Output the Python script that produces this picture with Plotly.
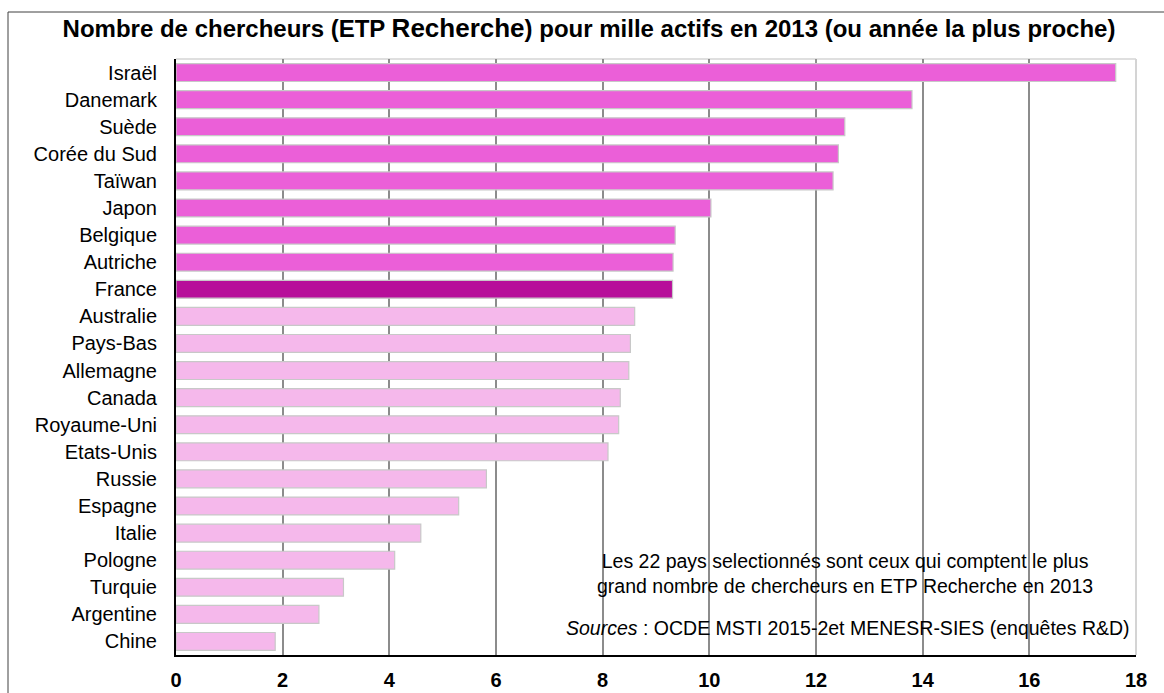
import plotly.graph_objects as go

countries = ["Israël", "Danemark", "Suède", "Corée du Sud", "Taïwan", "Japon", "Belgique",
             "Autriche", "France", "Australie", "Pays-Bas", "Allemagne", "Canada",
             "Royaume-Uni", "Etats-Unis", "Russie", "Espagne", "Italie", "Pologne",
             "Turquie", "Argentine", "Chine"]
values = [17.62, 13.80, 12.54, 12.42, 12.32, 10.03, 9.36, 9.32, 9.31, 8.60, 8.52, 8.49,
          8.33, 8.30, 8.10, 5.82, 5.30, 4.59, 4.10, 3.14, 2.68, 1.86]
groups = ["top"] * 8 + ["france"] + ["other"] * 13
palette = {"top": "#EB5FD8", "france": "#B70F9A", "other": "#F5B8EB"}
x_ticks = [0, 2, 4, 6, 8, 10, 12, 14, 16, 18]

W, H = 1164, 693
L, R, T, B = 176, 28, 59, 38
pw, ph = W - L - R, H - T - B

def px_x(p):
    return (p - L) / pw

def px_y(p):
    return (H - B - p) / ph

fig = go.Figure(go.Bar(
    y=countries, x=values, orientation="h",
    marker=dict(color=[palette[g] for g in groups], line=dict(color="#C8C8C8", width=1.2)),
    width=0.66,
))

font = "Liberation Sans, Arial, sans-serif"
fig.update_layout(
    width=W, height=H,
    margin=dict(l=L, r=R, t=T, b=B),
    paper_bgcolor="white", plot_bgcolor="white",
    showlegend=False,
    font=dict(family=font, color="black"),
    title=dict(
        text="<b>Nombre de chercheurs (ETP <span style='font-size:26px'>Recherche</span>) pour mille actifs en 2013 (ou année la plus proche)</b>",
        x=589 / W, xanchor="center", y=1 - 29 / H, yanchor="middle",
        font=dict(size=24, family=font, color="black"),
    ),
    xaxis=dict(
        range=[0, 18], tickvals=x_ticks, showgrid=True, gridcolor="#8C8C8C", gridwidth=2,
        showline=True, linecolor="black", linewidth=2, zeroline=False,
        ticks="", ticklabelstandoff=6, automargin=False,
        tickfont=dict(size=20, family=font, color="black", weight="bold"),
    ),
    yaxis=dict(
        autorange="reversed", showgrid=False, showline=True, linecolor="black", linewidth=2,
        ticks="", ticklabelstandoff=13, automargin=False,
        tickfont=dict(size=20, family=font, color="black"),
    ),
)

# plot area border (light gray right/top) and outer frame
fig.add_shape(type="line", xref="paper", yref="paper", x0=1, x1=1, y0=0, y1=1,
              line=dict(color="#D4D4D4", width=2), layer="above")
fig.add_shape(type="line", xref="paper", yref="paper", x0=0, x1=1, y0=1, y1=1,
              line=dict(color="#D4D4D4", width=1.5), layer="below")
fig.add_shape(type="rect", xref="paper", yref="paper",
              x0=px_x(8), x1=px_x(W + 20), y0=px_y(H + 20), y1=px_y(12),
              line=dict(color="#404040", width=1), layer="below")

fig.add_annotation(
    xref="paper", yref="paper", x=px_x(845), y=px_y(573), xanchor="center", yanchor="middle",
    text="Les 22 pays selectionnés sont ceux qui comptent le plus<br>grand nombre de chercheurs en ETP Recherche en 2013",
    showarrow=False, align="center",
    font=dict(size=19.5, family=font, color="black"),
)
fig.add_annotation(
    xref="paper", yref="paper", x=px_x(848), y=px_y(628), xanchor="center", yanchor="middle",
    text="<i>Sources</i> : OCDE MSTI 2015-2et MENESR-SIES (enquêtes R&D)",
    showarrow=False, align="center",
    font=dict(size=19.5, family=font, color="black"),
)

fig.write_html("out.html", config={"displayModeBar": False},
               post_script="document.body.style.margin='0';document.body.style.overflow='hidden';")
